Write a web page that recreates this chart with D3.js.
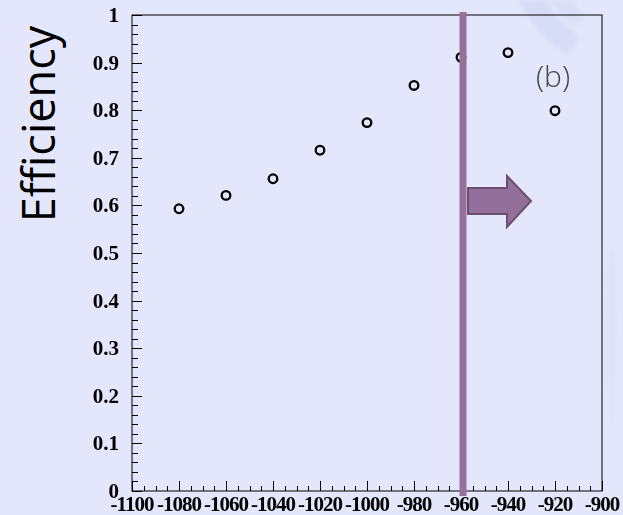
<!DOCTYPE html>
<html>
<head>
<meta charset="utf-8">
<script src="https://cdn.jsdelivr.net/npm/d3@7/dist/d3.min.js"></script>
<style>
  html, body { margin: 0; padding: 0; background: #e4e7fb; }
  svg { display: block; }
</style>
</head>
<body>
<svg id="chart" width="623" height="515"></svg>
<script>
// Efficiency versus cut value
const cutValues = [-1080, -1060, -1040, -1020, -1000, -980, -960, -940, -920];
const efficiency = [0.593, 0.621, 0.656, 0.716, 0.774, 0.852, 0.911, 0.921, 0.799];
const xTickValues = [-1100, -1080, -1060, -1040, -1020, -1000, -980, -960, -940, -920, -900];
const yTickValues = [0, 0.1, 0.2, 0.3, 0.4, 0.5, 0.6, 0.7, 0.8, 0.9, 1];
const selectedCut = -960;
const panelLabel = "(b)";
const yTitle = "Efficiency";

const svg = d3.select("#chart");
const W = 623, H = 515;
const margin = { left: 132, right: 21, top: 15, bottom: 24 };

svg.append("rect").attr("width", W).attr("height", H).attr("fill", "#e4e7fb");

// faint decorative streaks in the backdrop
const defs = svg.append("defs");
defs.append("filter").attr("id", "soft")
  .append("feGaussianBlur").attr("stdDeviation", 2);
const streaks = svg.append("g").attr("filter", "url(#soft)").attr("fill", "#ccd3f0");
streaks.append("path").attr("d", "M518,0 L545,0 L556,16 L580,38 L566,55 L548,40 L530,20 Z").attr("opacity", 0.55);
streaks.append("path").attr("d", "M548,0 L572,0 L586,18 L574,26 Z").attr("opacity", 0.4);
streaks.append("path").attr("d", "M609,240 L615,270 L616,330 L613,410 L610,430 L607,340 Z").attr("opacity", 0.3);

const x = d3.scaleLinear().domain([-1100, -900]).range([margin.left, W - margin.right]);
const y = d3.scaleLinear().domain([0, 1]).range([H - margin.bottom, margin.top]);

const x0 = x.range()[0], x1 = x.range()[1];
const y0 = y.range()[0], y1 = y.range()[1];

// frame
svg.append("rect")
  .attr("x", x0).attr("y", y1)
  .attr("width", x1 - x0).attr("height", y0 - y1)
  .attr("fill", "none").attr("stroke", "#000").attr("stroke-width", 1);

// minor and major ticks drawn inward
const ticks = svg.append("g").attr("stroke", "#000").attr("stroke-width", 1);
d3.range(-1100, -899, 5).forEach(v => {
  const major = v % 20 === 0;
  const px = Math.round(x(v)) + 0.5;
  ticks.append("line").attr("x1", px).attr("x2", px)
    .attr("y1", y0).attr("y2", y0 - (major ? 10 : 5));
});
d3.range(0, 51, 1).forEach(i => {
  const v = i / 50;
  const major = i % 5 === 0;
  const py = Math.round(y(v)) + 0.5;
  ticks.append("line").attr("x1", x0).attr("x2", x0 + (major ? 10 : 6))
    .attr("y1", py).attr("y2", py);
});

// tick labels
const labelFont = "'Liberation Serif', 'Times New Roman', serif";
svg.append("g").selectAll("text").data(xTickValues).join("text")
  .attr("x", d => x(d)).attr("y", 511)
  .attr("text-anchor", "middle")
  .attr("font-family", labelFont).attr("font-weight", "bold").attr("font-size", 21)
  .attr("letter-spacing", -1)
  .attr("fill", "#000")
  .text(d => d);
svg.append("g").selectAll("text").data(yTickValues).join("text")
  .attr("x", 119).attr("y", d => y(d) + 7)
  .attr("text-anchor", "end")
  .attr("font-family", labelFont).attr("font-weight", "bold").attr("font-size", 21)
  .attr("fill", "#000")
  .text(d => d);

// axis title
svg.append("text")
  .attr("transform", "translate(55,124) rotate(-90)")
  .attr("text-anchor", "middle")
  .attr("font-family", "'Open Sans', 'DejaVu Sans', sans-serif")
  .attr("font-size", 45)
  .attr("fill", "#000")
  .text(yTitle);

// data points
svg.append("g").selectAll("circle").data(cutValues).join("circle")
  .attr("cx", d => x(d))
  .attr("cy", (d, i) => y(efficiency[i]))
  .attr("r", 4.3)
  .attr("fill", "none")
  .attr("stroke", "#000")
  .attr("stroke-width", 2.3);

// selected cut line
const cx = x(selectedCut) + 2;
svg.append("rect")
  .attr("x", cx - 3.5).attr("y", y1 - 3)
  .attr("width", 7).attr("height", y0 - y1 + 8)
  .attr("fill", "#98709a");

// arrow pointing to the accepted side
const ay = 201;
const arrowPath = [
  [cx + 5, ay - 13], [cx + 44, ay - 13], [cx + 44, ay - 25],
  [cx + 68, ay], [cx + 44, ay + 26], [cx + 44, ay + 13], [cx + 5, ay + 13]
];
svg.append("path")
  .attr("d", d3.line()(arrowPath) + "Z")
  .attr("fill", "#93709a")
  .attr("stroke", "#6b4f72")
  .attr("stroke-width", 2)
  .attr("stroke-linejoin", "miter");

// panel label
svg.append("text")
  .attr("x", 553).attr("y", 87)
  .attr("text-anchor", "middle")
  .attr("font-family", "'Open Sans', 'DejaVu Sans', sans-serif")
  .attr("font-weight", 300)
  .attr("font-size", 30)
  .attr("fill", "#444")
  .text(panelLabel);
</script>
</body>
</html>
